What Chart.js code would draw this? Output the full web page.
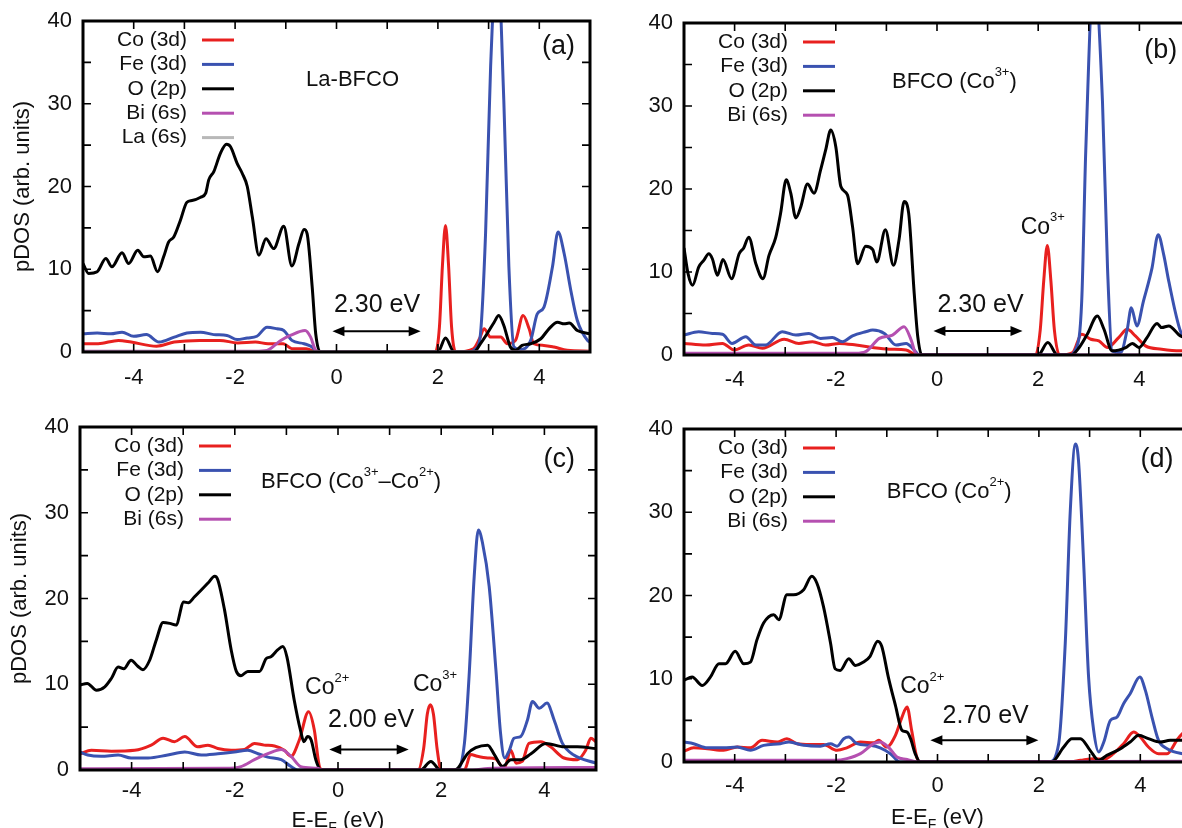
<!DOCTYPE html>
<html>
<head>
<meta charset="utf-8">
<script src="https://cdn.jsdelivr.net/npm/chart.js@4.4.1/dist/chart.umd.min.js"></script>
<style>
  html, body { margin: 0; padding: 0; background: #fff; }
  #wrap { position: relative; width: 1182px; height: 828px; overflow: hidden; background: #fff; }
  canvas { position: absolute; }
</style>
</head>
<body>
<div id="wrap"></div>
<script>
// tick values
const xTickLabels = [-4, -2, 0, 2, 4];
const yTickLabels = [0, 10, 20, 30, 40];
const xMinorTicks = [-4, -3, -2, -1, 0, 1, 2, 3, 4];
const yMinorTicks = [5, 10, 15, 20, 25, 30, 35];

const legendNames = ['Co (3d)', 'Fe (3d)', 'O (2p)', 'Bi (6s)', 'La (6s)'];
const seriesColors = ['#e8201f', '#3a52b0', '#000000', '#b550b0', '#b8b8b8'];

// ---- panel (a) La-BFCO ----
const aCoE = [-5, -4.7, -4.3, -4.05, -3.55, -3.2, -2.7, -2.3, -1.95, -1.6, -1.35, -1.05, -0.88, -0.6, -0.38, 1.95, 2.03, 2.09, 2.15, 2.21, 2.27, 2.35, 2.7, 2.82, 2.91, 3.04, 3.24, 3.37, 3.53, 3.68, 3.80, 3.89, 4.09, 4.29, 4.55, 5];
const aCoD = [1.0, 1.0, 1.4, 1.2, 0.7, 1.2, 1.4, 1.4, 1.1, 1.2, 1.0, 1.0, 0.4, 0.4, 0, 0, 3, 10.5, 15.3, 10.5, 3, 0, 0.4, 1.6, 2.8, 1.8, 1.8, 1.0, 1.4, 4.4, 2.8, 1.0, 0.8, 0.6, 0.2, 0.1];
const aFeE = [-5, -4.72, -4.45, -4.23, -4.0, -3.75, -3.5, -3.2, -2.95, -2.68, -2.42, -2.16, -1.96, -1.76, -1.57, -1.37, -1.17, -1.04, -0.88, -0.64, -0.48, -0.38, 2.6, 2.75, 2.84, 2.94, 3.04, 3.17, 3.30, 3.40, 3.50, 3.62, 3.83, 3.96, 4.09, 4.26, 4.37, 4.49, 4.62, 4.75, 4.95, 5];
const aFeD = [2.2, 2.3, 2.2, 2.4, 1.9, 2.1, 1.2, 1.8, 2.3, 2.4, 2.1, 2.0, 1.5, 1.7, 1.9, 3.0, 2.8, 2.6, 1.4, 1.0, 0.6, 0, 0, 0.4, 2.2, 14.3, 34.5, 48, 30.4, 10.3, 0.6, 0.3, 1.4, 4.6, 5.4, 10.3, 14.5, 11.9, 7.5, 3.8, 1.4, 1.2];
const aOE = [-5, -4.89, -4.72, -4.55, -4.43, -4.23, -4.10, -3.92, -3.80, -3.67, -3.53, -3.41, -3.31, -3.21, -3.08, -2.95, -2.85, -2.68, -2.58, -2.52, -2.42, -2.29, -2.17, -2.09, -1.96, -1.86, -1.76, -1.66, -1.53, -1.39, -1.24, -1.04, -0.88, -0.74, -0.64, -0.58, -0.48, -0.41, -0.32, 2.0, 2.15, 2.32, 2.71, 2.84, 2.97, 3.11, 3.20, 3.30, 3.43, 3.53, 3.66, 3.83, 4.03, 4.19, 4.36, 4.49, 4.59, 4.75, 5];
const aOD = [10.7, 9.5, 9.7, 11.3, 10.3, 12.0, 10.7, 12.3, 11.5, 11.6, 9.7, 11.5, 13.3, 13.9, 15.9, 18.1, 18.3, 18.7, 19.2, 20.8, 21.8, 24.0, 25.1, 24.8, 22.8, 21.6, 20.0, 16.3, 11.7, 13.7, 12.5, 15.2, 10.4, 13.1, 14.8, 14.3, 7.9, 2.2, 0, 0, 1.7, 0, 0, 1.0, 2.2, 3.6, 4.4, 3.2, 0.6, 0.2, 0.8, 1.0, 1.6, 2.8, 3.6, 3.4, 3.5, 2.6, 2.2];
const aBiE = [-5, -1.6, -1.37, -1.1, -0.91, -0.62, -0.51, -0.41, -0.3, 5];
const aBiD = [0.1, 0.1, 0.2, 1.4, 2.0, 2.6, 1.8, 0.2, 0, 0];
const aLaE = [-5, 5];
const aLaD = [0, 0];

// ---- panel (b) BFCO (Co3+) ----
const bCoE = [-5, -4.57, -4.24, -4.01, -3.72, -3.45, -3.02, -2.73, -2.46, -2.2, -1.93, -1.6, -1.27, -0.94, -0.61, -0.4, 1.95, 2.04, 2.11, 2.18, 2.25, 2.32, 2.42, 2.68, 2.86, 3.04, 3.2, 3.37, 3.59, 3.76, 3.92, 4.12, 4.44, 4.81, 5];
const bCoD = [1.4, 1.2, 1.4, 0.6, 1.2, 0.8, 1.9, 1.4, 1.6, 1.2, 1.4, 1.2, 0.9, 0.7, 0.6, 0, 0, 3, 9, 13.2, 9, 3, 0, 0.3, 2.5, 1.9, 1.7, 0.9, 2.1, 3.1, 2.3, 1.1, 0.7, 0.5, 0.5];
const bFeE = [-5, -4.71, -4.44, -4.24, -4.05, -3.78, -3.58, -3.39, -3.06, -2.79, -2.53, -2.30, -2.07, -1.87, -1.67, -1.41, -1.27, -1.04, -0.81, -0.61, -0.45, -0.35, 2.6, 2.75, 2.86, 2.94, 3.1, 3.27, 3.37, 3.46, 3.63, 3.76, 3.84, 3.95, 4.08, 4.25, 4.37, 4.48, 4.58, 4.81, 5];
const bFeD = [2.4, 2.8, 2.6, 2.5, 1.4, 2.2, 1.2, 1.2, 2.8, 2.4, 2.6, 2.0, 2.1, 1.6, 2.3, 2.8, 3.0, 2.6, 1.2, 1.4, 0.6, 0, 0, 0.8, 6.5, 24.6, 46, 30.6, 10.5, 0.5, 0.3, 3.1, 5.7, 3.5, 6.5, 10.5, 14.5, 12.1, 8.9, 2.9, 1.5];
const bOE = [-5, -4.92, -4.83, -4.71, -4.61, -4.51, -4.44, -4.34, -4.23, -4.06, -3.91, -3.82, -3.72, -3.58, -3.44, -3.32, -3.19, -3.09, -2.98, -2.89, -2.79, -2.69, -2.56, -2.43, -2.30, -2.20, -2.10, -2.0, -1.90, -1.77, -1.67, -1.57, -1.41, -1.27, -1.19, -1.02, -0.86, -0.75, -0.65, -0.56, -0.45, -0.38, -0.30, 2.0, 2.19, 2.38, 2.65, 2.81, 2.97, 3.17, 3.30, 3.46, 3.73, 3.86, 3.99, 4.15, 4.35, 4.44, 4.58, 4.81, 5];
const bOD = [12.9, 9.8, 8.4, 10.6, 11.4, 12.2, 11.6, 9.6, 11.5, 9.2, 12.2, 12.9, 14.2, 11.0, 9.2, 12.0, 14.1, 17.1, 21.1, 19.5, 16.5, 17.9, 20.6, 19.5, 22.3, 24.7, 27.1, 25.1, 20.3, 19.3, 15.5, 11.0, 13.1, 12.7, 11.2, 15.1, 10.8, 13.9, 18.5, 17.1, 7.4, 2.2, 0, 0, 1.5, 0, 0, 0.9, 2.5, 4.7, 3.1, 0.5, 0.9, 1.4, 0.9, 2.1, 3.8, 3.3, 3.5, 2.3, 2.0];
const bBiE = [-5, -1.6, -1.41, -1.14, -0.88, -0.65, -0.51, -0.42, -0.3, 5];
const bBiD = [0.2, 0.2, 0.4, 2.0, 2.4, 3.4, 1.8, 0.2, 0, 0];

// ---- panel (c) BFCO (Co3+-Co2+) ----
const cCoE = [-5, -4.78, -4.39, -3.94, -3.62, -3.39, -3.17, -2.97, -2.72, -2.52, -2.33, -2.07, -1.81, -1.62, -1.43, -1.23, -1.04, -0.91, -0.75, -0.57, -0.46, -0.36, -0.30, 1.55, 1.66, 1.73, 1.79, 1.85, 1.92, 2.0, 2.45, 2.57, 2.70, 2.90, 3.05, 3.22, 3.35, 3.45, 3.57, 3.70, 3.93, 4.12, 4.38, 4.64, 4.80, 4.90, 5];
const cCoD = [1.9, 2.3, 2.2, 2.3, 2.9, 3.7, 3.3, 3.9, 2.7, 2.9, 2.5, 2.3, 2.4, 3.1, 2.9, 2.8, 2.3, 1.6, 3.5, 6.8, 4.7, 0.4, 0, 0, 2.5, 6.5, 7.6, 6.5, 2.5, 0, 0, 1.8, 1.6, 1.4, 1.3, 0.2, 2.3, 0.8, 1.0, 3.1, 3.3, 2.7, 1.4, 1.2, 2.3, 3.7, 3.3];
const cFeE = [-5, -4.85, -4.59, -4.26, -4.01, -3.68, -3.30, -2.97, -2.65, -2.33, -2.01, -1.75, -1.55, -1.36, -1.10, -0.91, -0.78, 2.3, 2.45, 2.54, 2.64, 2.72, 2.80, 2.93, 3.06, 3.15, 3.23, 3.32, 3.41, 3.54, 3.67, 3.77, 3.90, 4.05, 4.19, 4.35, 4.57, 5];
const cFeD = [2.1, 1.75, 1.6, 1.75, 1.4, 1.4, 1.75, 2.1, 1.75, 1.9, 2.1, 2.3, 1.9, 1.5, 1.2, 0.4, 0, 0, 3.1, 10.9, 22.6, 28.0, 26.5, 21.4, 11.7, 4.3, 1.4, 2.3, 3.7, 3.9, 5.8, 8.0, 7.2, 7.8, 5.8, 3.1, 1.75, 0.8];
const cOE = [-5, -4.86, -4.68, -4.52, -4.39, -4.26, -4.15, -4.01, -3.88, -3.78, -3.65, -3.52, -3.39, -3.26, -3.14, -2.99, -2.90, -2.78, -2.65, -2.52, -2.39, -2.33, -2.20, -2.07, -1.97, -1.88, -1.75, -1.52, -1.39, -1.30, -1.17, -1.07, -0.99, -0.85, -0.73, -0.66, -0.59, -0.52, -0.43, -0.33, 1.6, 1.80, 1.98, 2.25, 2.32, 2.51, 2.67, 2.90, 3.03, 3.19, 3.35, 3.54, 3.74, 4.03, 4.38, 4.64, 5];
const cOD = [9.9, 10.1, 9.3, 9.7, 10.7, 12.0, 11.8, 12.8, 12.1, 11.7, 12.8, 15.2, 17.2, 17.1, 16.9, 19.6, 19.5, 20.2, 21.0, 21.8, 22.6, 22.2, 18.7, 14.0, 11.5, 11.0, 11.5, 11.5, 13.0, 13.2, 14.0, 14.4, 13.2, 8.2, 4.7, 3.3, 3.9, 3.5, 1.2, 0, 0, 1.0, 0, 0, 0.2, 1.9, 2.6, 2.9, 1.8, 0.4, 1.2, 1.2, 1.9, 3.1, 2.7, 2.7, 2.5];
const cBiE = [-5, -2.2, -1.88, -1.62, -1.36, -1.10, -0.91, -0.72, -0.4, -0.3, 2.5, 3.0, 5];
const cBiD = [0.15, 0.2, 0.4, 1.2, 1.9, 2.4, 1.6, 0.4, 0.2, 0, 0, 0.2, 0.3];

// ---- panel (d) BFCO (Co2+) ----
const dCoE = [-5, -4.81, -4.54, -4.22, -3.95, -3.69, -3.46, -3.16, -2.97, -2.77, -2.51, -2.25, -1.98, -1.79, -1.52, -1.26, -1.16, -1.0, -0.83, -0.70, -0.60, -0.51, -0.41, -0.34, 2.6, 2.82, 3.08, 3.28, 3.47, 3.67, 3.87, 4.0, 4.16, 4.36, 4.53, 4.72, 4.83, 5];
const dCoD = [1.3, 1.7, 1.6, 1.4, 1.8, 1.7, 2.6, 2.4, 2.8, 2.2, 2.1, 2.1, 1.4, 1.7, 2.4, 2.3, 2.6, 1.8, 3.2, 5.4, 6.6, 3.8, 0.6, 0, 0, 0.2, 0.4, 0.3, 1.0, 2.2, 3.6, 3.0, 1.8, 1.0, 1.0, 2.6, 3.4, 4.0];
const dFeE = [-5, -4.81, -4.54, -4.22, -3.95, -3.69, -3.43, -3.10, -2.93, -2.64, -2.31, -2.11, -1.98, -1.85, -1.75, -1.59, -1.33, -1.13, -0.93, -0.74, 2.2, 2.39, 2.52, 2.62, 2.72, 2.78, 2.88, 2.98, 3.08, 3.18, 3.28, 3.41, 3.54, 3.67, 3.80, 3.99, 4.10, 4.23, 4.36, 4.53, 4.83, 5];
const dFeD = [2.4, 2.2, 1.7, 1.7, 1.8, 1.4, 2.0, 2.2, 2.4, 2.0, 1.9, 2.2, 1.9, 2.8, 3.0, 2.2, 2.0, 1.7, 1.0, 0, 0, 2.2, 14.3, 30.3, 38.2, 36.3, 24.3, 10.2, 3.8, 1.2, 2.4, 5.0, 5.4, 7.0, 8.2, 10.2, 8.6, 5.4, 2.6, 1.6, 1.0, 0.9];
const dOE = [-5, -4.84, -4.64, -4.48, -4.31, -4.18, -3.99, -3.82, -3.69, -3.56, -3.43, -3.23, -3.13, -2.97, -2.84, -2.64, -2.48, -2.38, -2.25, -2.11, -2.02, -1.92, -1.75, -1.62, -1.46, -1.33, -1.18, -1.10, -0.97, -0.83, -0.70, -0.60, -0.53, -0.44, -0.34, 2.25, 2.49, 2.65, 2.82, 3.01, 3.18, 3.34, 3.61, 3.80, 3.97, 4.16, 4.39, 4.59, 4.83, 5];
const dOD = [9.8, 10.2, 9.2, 10.2, 11.8, 11.8, 13.3, 11.8, 12.0, 14.7, 16.7, 17.7, 17.1, 20.1, 20.1, 20.7, 22.3, 21.5, 18.7, 14.3, 11.2, 11.0, 12.4, 11.6, 12.0, 12.7, 14.5, 13.9, 10.2, 6.8, 3.8, 3.6, 2.8, 1.0, 0, 0, 1.8, 2.8, 2.8, 1.4, 0.2, 0.8, 1.6, 2.4, 3.2, 2.8, 2.4, 2.6, 2.6, 2.8];
const dBiE = [-5, -2.0, -1.79, -1.52, -1.26, -1.13, -0.97, -0.80, -0.6, -0.4, 5];
const dBiD = [0.2, 0.2, 0.4, 1.0, 2.2, 2.4, 1.8, 0.6, 0.3, 0, 0.1];

const FONT = '"Liberation Sans", Arial, Helvetica, sans-serif';
Chart.defaults.font.family = FONT;
Chart.defaults.color = '#111';

function toPts(es, ds) { return es.map((e, i) => ({ x: e, y: ds[i] })); }

const panels = [
  {
    tag: '(a)', rect: [83, 21, 590, 352], tickPad: 13, yTitle: true, xTitle: 0,
    series: [[aCoE, aCoD], [aFeE, aFeD], [aOE, aOD], [aBiE, aBiD], [aLaE, aLaD]],
    name: ['La-BFCO'], namePos: [-0.6, 32.9], tagPos: [4.38, 36.9],
    gap: '2.30 eV', gapPos: [0.80, 5.7], arrow: [-0.08, 1.66, 2.5],
    coLabels: []
  },
  {
    tag: '(b)', rect: [684, 23, 1190, 355], tickPad: 12, yTitle: false, xTitle: 0,
    series: [[bCoE, bCoD], [bFeE, bFeD], [bOE, bOD], [bBiE, bBiD]],
    name: ['BFCO (Co', '^3+', ')'], namePos: [-0.89, 32.9], tagPos: [4.42, 36.7],
    gap: '2.30 eV', gapPos: [0.86, 6.0], arrow: [-0.07, 1.69, 2.9],
    coLabels: [['3+', 2.09, 15.4]]
  },
  {
    tag: '(c)', rect: [80, 427, 596, 770], tickPad: 8, yTitle: true, xTitle: 51,
    series: [[cCoE, cCoD], [cFeE, cFeD], [cOE, cOD], [cBiE, cBiD]],
    name: ['BFCO (Co', '^3+', '\u2013Co', '^2+', ')'], namePos: [-1.49, 33.6], tagPos: [4.29, 36.2],
    gap: '2.00 eV', gapPos: [0.64, 5.8], arrow: [-0.17, 1.37, 2.4],
    coLabels: [['2+', -0.21, 9.6], ['3+', 1.88, 9.9]]
  },
  {
    tag: '(d)', rect: [684, 429, 1191, 762], tickPad: 11, yTitle: false, xTitle: 56,
    series: [[dCoE, dCoD], [dFeE, dFeD], [dOE, dOD], [dBiE, dBiD]],
    name: ['BFCO (Co', '^2+', ')'], namePos: [-1.0, 32.5], tagPos: [4.33, 36.3],
    gap: '2.70 eV', gapPos: [0.95, 5.5], arrow: [-0.14, 1.99, 2.6],
    coLabels: [['2+', -0.30, 9.0]]
  }
];

// text with superscript parts ('^' prefix)
function richWidth(ctx, parts, size) {
  let w = 0;
  parts.forEach(s => {
    const sup = s[0] === '^';
    ctx.font = (sup ? Math.round(size * 0.58) : size) + 'px ' + FONT;
    w += ctx.measureText(sup ? s.slice(1) : s).width;
  });
  return w;
}
function drawRich(ctx, parts, x, y, size, align) {
  let cx = align === 'center' ? x - richWidth(ctx, parts, size) / 2 : x;
  ctx.textAlign = 'left';
  ctx.textBaseline = 'middle';
  parts.forEach(s => {
    const sup = s[0] === '^';
    const t = sup ? s.slice(1) : s;
    ctx.font = (sup ? Math.round(size * 0.58) : size) + 'px ' + FONT;
    ctx.fillText(t, cx, sup ? y - size * 0.42 : y);
    cx += ctx.measureText(t).width;
  });
}
function arrowHead(ctx, x, y, dir) {
  ctx.beginPath();
  ctx.moveTo(x, y);
  ctx.lineTo(x - dir * 12, y - 5);
  ctx.lineTo(x - dir * 12, y + 5);
  ctx.closePath();
  ctx.fill();
}

function makeDeco(p) {
  return {
    id: 'deco',
    afterDatasetsDraw(chart) {
      const ctx = chart.ctx, a = chart.chartArea;
      const xs = chart.scales.x, ys = chart.scales.y;
      const X = v => xs.getPixelForValue(v), Y = v => ys.getPixelForValue(v);
      ctx.save();
      ctx.fillStyle = '#111';
      ctx.strokeStyle = '#000';

      // inward ticks on all four sides
      ctx.lineWidth = 1.6;
      ctx.beginPath();
      xMinorTicks.forEach(v => {
        ctx.moveTo(X(v), a.bottom); ctx.lineTo(X(v), a.bottom - 8);
        ctx.moveTo(X(v), a.top); ctx.lineTo(X(v), a.top + 8);
      });
      yMinorTicks.forEach(v => {
        ctx.moveTo(a.left, Y(v)); ctx.lineTo(a.left + 8, Y(v));
        ctx.moveTo(a.right, Y(v)); ctx.lineTo(a.right - 8, Y(v));
      });
      ctx.stroke();

      // frame
      ctx.lineWidth = 3;
      ctx.strokeRect(a.left, a.top, a.right - a.left, a.bottom - a.top);

      // legend
      p.series.forEach((s, i) => {
        const ly = a.top + 19 + i * 24.4;
        ctx.font = '21px ' + FONT;
        ctx.textAlign = 'right';
        ctx.textBaseline = 'middle';
        ctx.fillText(legendNames[i], a.left + 104, ly);
        ctx.strokeStyle = seriesColors[i];
        ctx.lineWidth = 3;
        ctx.beginPath();
        ctx.moveTo(a.left + 119, ly);
        ctx.lineTo(a.left + 151, ly);
        ctx.stroke();
      });

      // labels
      drawRich(ctx, p.name, X(p.namePos[0]), Y(p.namePos[1]), 22, 'left');
      ctx.font = '27px ' + FONT;
      ctx.textAlign = 'center';
      ctx.textBaseline = 'middle';
      ctx.fillText(p.tag, X(p.tagPos[0]), Y(p.tagPos[1]));
      ctx.font = '25px ' + FONT;
      ctx.fillText(p.gap, X(p.gapPos[0]), Y(p.gapPos[1]));
      p.coLabels.forEach(c => drawRich(ctx, ['Co', '^' + c[0]], X(c[1]), Y(c[2]), 23, 'center'));

      // gap arrow
      const x1 = X(p.arrow[0]), x2 = X(p.arrow[1]), ay = Y(p.arrow[2]);
      ctx.strokeStyle = '#000';
      ctx.fillStyle = '#000';
      ctx.lineWidth = 2;
      ctx.beginPath();
      ctx.moveTo(x1 + 6, ay); ctx.lineTo(x2 - 6, ay);
      ctx.stroke();
      arrowHead(ctx, x1, ay, -1);
      arrowHead(ctx, x2, ay, 1);

      // axis titles
      ctx.fillStyle = '#111';
      if (p.yTitle) {
        ctx.save();
        ctx.translate(a.left - 60, (a.top + a.bottom) / 2);
        ctx.rotate(-Math.PI / 2);
        ctx.font = '22px ' + FONT;
        ctx.textAlign = 'center';
        ctx.textBaseline = 'middle';
        ctx.fillText('pDOS (arb. units)', 0, 0);
        ctx.restore();
      }
      if (p.xTitle) {
        ctx.font = '22px ' + FONT;
        const w0 = ctx.measureText('E-E').width;
        const w2 = ctx.measureText(' (eV)').width;
        ctx.font = '14px ' + FONT;
        const w1 = ctx.measureText('F').width;
        let cx = (a.left + a.right) / 2 - (w0 + w1 + w2) / 2;
        const ty = a.bottom + p.xTitle;
        ctx.textAlign = 'left';
        ctx.textBaseline = 'middle';
        ctx.font = '22px ' + FONT;
        ctx.fillText('E-E', cx, ty); cx += w0;
        ctx.font = '14px ' + FONT;
        ctx.fillText('F', cx, ty + 7); cx += w1;
        ctx.font = '22px ' + FONT;
        ctx.fillText(' (eV)', cx, ty);
      }
      ctx.restore();
    }
  };
}

const wrap = document.getElementById('wrap');
const PL = 80, PT = 25, PR = 25, PB = 75, YW = 50, XH = 45;

panels.forEach(p => {
  const [l, t, r, b] = p.rect;
  const cv = document.createElement('canvas');
  cv.width = (r - l) + PL + PR;
  cv.height = (b - t) + PT + PB;
  cv.style.left = (l - PL) + 'px';
  cv.style.top = (t - PT) + 'px';
  cv.style.width = cv.width + 'px';
  cv.style.height = cv.height + 'px';
  wrap.appendChild(cv);

  const datasets = p.series.map((s, i) => ({
    label: legendNames[i],
    data: toPts(s[0], s[1]),
    borderColor: seriesColors[i],
    backgroundColor: seriesColors[i],
    borderWidth: 3,
    pointRadius: 0,
    fill: false,
    cubicInterpolationMode: 'monotone',
    order: -i
  }));

  new Chart(cv.getContext('2d'), {
    type: 'line',
    data: { datasets: datasets },
    options: {
      responsive: false,
      animation: false,
      devicePixelRatio: 1,
      layout: { padding: { left: PL - YW, top: PT, right: PR, bottom: PB - XH } },
      plugins: { legend: { display: false }, tooltip: { enabled: false } },
      scales: {
        x: {
          type: 'linear', min: -5, max: 5,
          grid: { display: false, drawTicks: false },
          border: { display: false },
          afterBuildTicks: s => { s.ticks = xTickLabels.map(v => ({ value: v })); },
          afterFit: s => { s.height = XH; },
          ticks: { padding: p.tickPad, font: { size: 22 }, color: '#111', maxRotation: 0 }
        },
        y: {
          type: 'linear', min: 0, max: 40,
          grid: { display: false, drawTicks: false },
          border: { display: false },
          afterBuildTicks: s => { s.ticks = yTickLabels.map(v => ({ value: v })); },
          afterFit: s => { s.width = YW; },
          ticks: { padding: 11, font: { size: 22 }, color: '#111' }
        }
      }
    },
    plugins: [makeDeco(p)]
  });
});
</script>
</body>
</html>
